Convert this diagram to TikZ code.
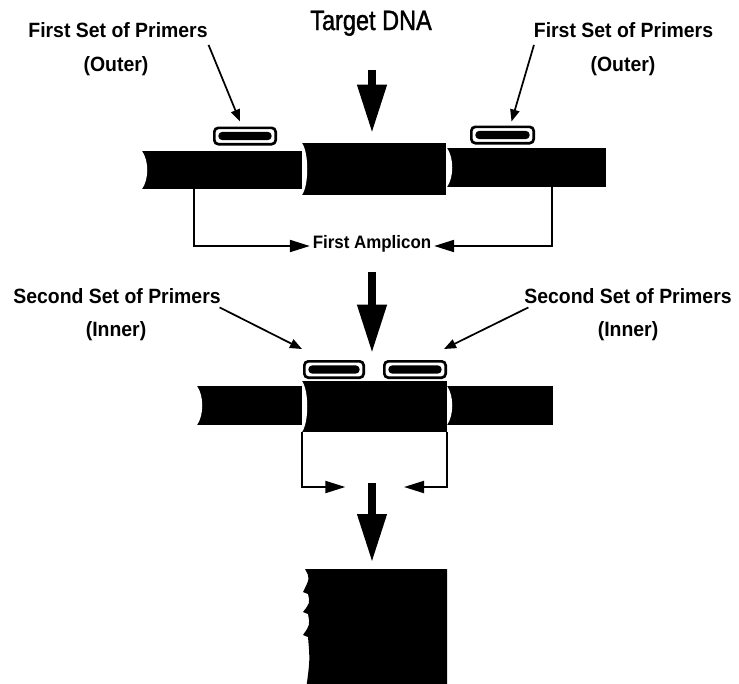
\documentclass[tikz,border=0pt]{standalone}
\usepackage{fontspec}
\setmainfont{Liberation Sans}
\newfontfamily\fonterotulo[FakeStretch=0.94]{Liberation Sans}
\newfontfamily\fontetitulo[FakeStretch=0.84, FakeBold=1.4]{Liberation Sans}
\usepackage{tikz}
\usetikzlibrary{arrows.meta}

\begin{document}
\begin{tikzpicture}[
    x=0.75pt, y=-0.75pt,
    rotulo/.style={
        font=\fonterotulo\bfseries\fontsize{15.5}{18}\selectfont,
        inner sep=2pt,
        text height=11.2pt,
        text depth=0pt
    },
    titulo/.style={
        font=\fontetitulo\fontsize{21}{24}\selectfont,
        inner sep=2pt,
        text height=15pt,
        text depth=0pt
    },
    legenda/.style={
        font=\fonterotulo\bfseries\fontsize{13.5}{16}\selectfont,
        inner sep=2pt,
        text height=9.7pt,
        text depth=0pt
    },
    entalhe/.style={
        path picture={\fill[white] (path picture bounding box.north west)
            .. controls +(7,10) and +(7,-10) .. (path picture bounding box.south west) -- cycle;}
    },
    segmento/.style={rectangle, fill=black, inner sep=0pt, entalhe},
    iniciador/.style={
        rectangle,
        rounded corners=3pt,
        draw=black,
        line width=2pt,
        fill=white,
        minimum height=12.25pt,
        inner sep=0pt,
        path picture={\fill[black] ([shift={(3pt,3pt)}]path picture bounding box.south west)
            rectangle ([shift={(-3pt,-3pt)}]path picture bounding box.north east);}
    },
    setagrande/.style={-{Triangle[length=36pt,width=21pt]}, line width=5.5pt},
    ponteiro/.style={-{Triangle[length=9pt,width=7pt]}, line width=1.3pt},
    colchete/.style={-{Triangle[length=15pt,width=9pt]}, line width=1.5pt}
]
\useasboundingbox (0,0) rectangle (739,683);

% rotulos de cima
\node[titulo] (dnaalvo) at (371,20) {Target DNA};
\node[rotulo] (externoE) at (118,30.5) {First Set of Primers};
\node[rotulo] (externoEb) at (116,64.5) {(Outer)};
\node[rotulo] (externoD) at (623.5,30.5) {First Set of Primers};
\node[rotulo] (externoDb) at (623,64.5) {(Outer)};

% primeira fita
\node[iniciador, minimum width=46pt] (ini1) at (245,136) {};
\node[iniciador, minimum width=46.75pt] (ini2) at (502.5,135) {};
\node[segmento, minimum width=120pt, minimum height=28.5pt] (fitaE1) at (222,170) {};
\node[segmento, minimum width=108pt, minimum height=39pt] (meio1) at (374,169) {};
\node[segmento, minimum width=119.25pt, minimum height=29.25pt] (fitaD1) at (526.5,167.5) {};

\node[legenda] (amplicon1) at (372,242) {First Amplicon};

\node[rotulo] (internoE) at (117,296) {Second Set of Primers};
\node[rotulo] (internoEb) at (116,329) {(Inner)};
\node[rotulo] (internoD) at (628,296) {Second Set of Primers};
\node[rotulo] (internoDb) at (628,329) {(Inner)};

% segunda fita
\node[iniciador, minimum width=44.5pt] (ini3) at (334,369.5) {};
\node[iniciador, minimum width=46pt] (ini4) at (415,369.5) {};
\node[segmento, minimum width=78.75pt, minimum height=29.25pt] (fitaE2) at (249.5,405.5) {};
\node[segmento, minimum width=108.75pt, minimum height=38.25pt] (meio2) at (374.5,406.5) {};
\node[segmento, minimum width=79.5pt, minimum height=29.25pt] (fitaD2) at (500,405.5) {};

\coordinate (juncao) at (372,487);
\coordinate (produto) at (372,569);

% produto final
\fill (447,569) -- (305,569) .. controls (310,578) .. (303,592) -- (308,594)
    .. controls (310,603) .. (303,612) -- (308,614)
    .. controls (310,625) .. (303,635) -- (308,637)
    .. controls (310,660) .. (306,690) -- (447,690) -- cycle;

\draw[setagrande] ([shift={(1,37)}]dnaalvo.south) -- ([shift={(-2,-10)}]meio1.north);
\draw[setagrande] ([shift={(0,21)}]amplicon1.south) -- ([shift={(-2.5,-28)}]meio2.north);
\draw[setagrande] ([shift={(0,-4)}]juncao) -- ([shift={(0,-7)}]produto);

\draw[ponteiro] ([shift={(-2,4)}]externoE.south east) -- ([shift={(-5,-5)}]ini1.north);
\draw[ponteiro] ([shift={(3,4)}]externoD.south west) -- ([shift={(9,-4)}]ini2.north);
\draw[ponteiro] ([shift={(-4,1)}]internoE.south east) -- ([shift={(-1,-11)}]ini3.north west);
\draw[ponteiro] ([shift={(7,1)}]internoD.south west) -- ([shift={(-3,-11)}]ini4.north east);

\draw[colchete] ([xshift=-21pt]fitaE1.south) |- ([yshift=-3pt]amplicon1.west);
\draw[colchete] ([xshift=19pt]fitaD1.south) |- ([yshift=-3pt]amplicon1.east);
\draw[colchete] (meio2.south west) |- ([xshift=-20pt]juncao);
\draw[colchete] (meio2.south east) |- ([xshift=24pt]juncao);

\end{tikzpicture}
\end{document}
